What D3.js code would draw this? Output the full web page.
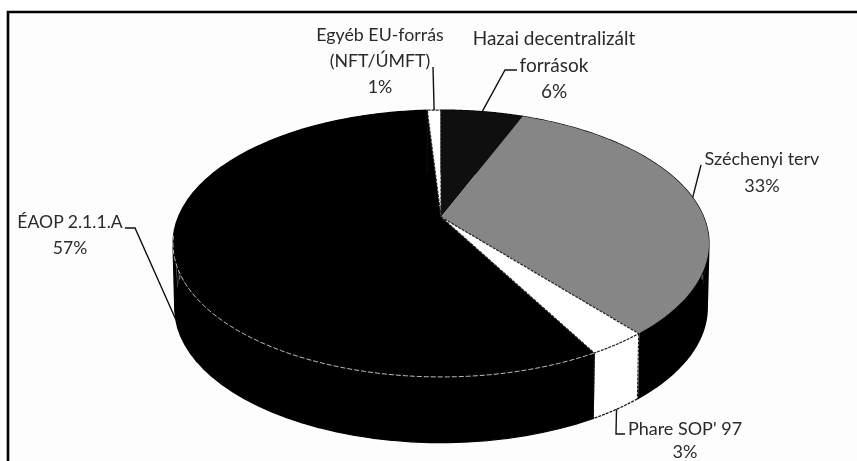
<!DOCTYPE html>
<html>
<head>
<meta charset="utf-8">
<script src="https://cdnjs.cloudflare.com/ajax/libs/d3/7.8.5/d3.min.js"></script>
<style>
html,body{margin:0;padding:0;background:#fff;overflow:hidden}
svg{display:block}
</style>
</head>
<body>
<svg id="chart" width="857" height="461"></svg>
<script>
const categories = ["Hazai decentralizált források", "Széchenyi terv", "Phare SOP' 97", "ÉAOP 2.1.1.A", "Egyéb EU-forrás (NFT/ÚMFT)"];
const values = [6, 33, 3, 57, 1];
const labelLines = [["Hazai decentralizált", "források", "6%"], ["Széchenyi terv", "33%"], ["Phare SOP' 97", "3%"], ["ÉAOP 2.1.1.A", "57%"], ["Egyéb EU-forrás", "(NFT/ÚMFT)", "1%"]];
const topColors = ["#0f0f0f", "#868686", "#ffffff", "#000000", "#ffffff"];
const wallColors = ["#000000", "#000000", "#ffffff", "#000000", "#ffffff"];

// Layout (label centres, first baselines, line steps, font sizes, leader elbows)
const labelCenters = [[554, 45], [762, 165], [685, 435], [70, 228], [380, 41]];
const labelSteps = [26.5, 27, 22.5, 26, 26];
const labelSizes = [19, 18, 18, 17.6, 17.8];
const elbows = [[[505, 70], [517, 70]], [[701, 165]], [[616, 434], [625, 434]], [[135, 228], [125, 228]], [[433, 67]]];
const leaderOnWall = [false, false, true, true, false];

const svg = d3.select("#chart");
const W = 857, H = 461;
svg.append("rect").attr("width", W).attr("height", H).attr("fill", "#fff");
svg.append("rect").attr("x", 8).attr("y", 12).attr("width", W - 8).attr("height", H - 12)
  .attr("fill", "#fdfdfd");
svg.append("path").attr("d", `M8,${H}V12H${W}`).attr("fill", "none").attr("stroke", "#000").attr("stroke-width", 2.6);

const root = svg.append("g").style("filter", "blur(0.45px)");

// tilted disc: perspective projection of the unit circle
const k = 0.1985;
const xTop = d3.scaleLinear().domain([-1, 1]).range([441 - 262.7, 441 + 262.7]);
const yTop = d3.scaleLinear().domain([-1, 1]).range([217 + 128.2, 217 - 128.2]);
const xBot = d3.scaleLinear().domain([-1, 1]).range([441 - 261, 441 + 261]);
const yBot = d3.scaleLinear().domain([-1, 1]).range([281 + 129.6, 281 - 129.6]);
const project = (xs, ys, a) => {
  const u = Math.sin(a), v = Math.cos(a), w = 1 + k * v;
  return [xs(u / w), ys(v / w)];
};
const pTop = a => project(xTop, yTop, a);
const pBot = a => project(xBot, yBot, a);
const arcPts = (fn, a0, a1) => d3.range(0, 61).map(i => fn(a0 + (a1 - a0) * i / 60));
const line = d3.line();
const apex = [xTop(0), yTop(0)];

const arcs = d3.pie().sort(null)(values);

// side walls, built from quads so the silhouette joins both rims
const wallPath = d => {
  const t = arcPts(pTop, d.startAngle, d.endAngle), b = arcPts(pBot, d.startAngle, d.endAngle);
  return d3.range(0, 60).map(i => line([t[i], t[i + 1], b[i + 1], b[i]]) + "Z").join("");
};
root.append("g").selectAll("path").data(arcs).join("path")
  .attr("d", wallPath)
  .attr("fill", (d, i) => wallColors[i])
  .attr("stroke", (d, i) => wallColors[i]).attr("stroke-width", 1.2);

// top faces
root.append("g").selectAll("path").data(arcs).join("path")
  .attr("d", d => line([apex].concat(arcPts(pTop, d.startAngle, d.endAngle))) + "Z")
  .attr("fill", (d, i) => topColors[i]);

// edges of white slices
const edge = root.append("g").attr("fill", "none");
arcs.forEach((d, i) => {
  if (topColors[i] !== "#ffffff") return;
  edge.append("path")
    .attr("d", line([apex].concat(arcPts(pTop, d.startAngle, d.endAngle))) + "Z")
    .attr("stroke", "#222").attr("stroke-width", 1.2).attr("stroke-dasharray", "3 1");
  [d.startAngle, d.endAngle].forEach(a => {
    edge.append("path")
      .attr("d", line([pTop(a), pBot(a)]))
      .attr("stroke", "#111").attr("stroke-width", 1.1).attr("stroke-dasharray", "3 1");
  });
  if (i === 2) {
    edge.append("path")
      .attr("d", line(arcPts(pBot, d.startAngle, d.endAngle)))
      .attr("stroke", "#111").attr("stroke-width", 1.2).attr("stroke-dasharray", "3 1");
  }
});

// pale hairline between top face and wall of the big black slice, front part only
const big = arcs[3];
const hairlineEnd = 4.57;
edge.append("path")
  .attr("d", line(arcPts(pTop, big.startAngle, hairlineEnd)))
  .attr("stroke", "#e8e8e8").attr("stroke-width", 0.8).attr("stroke-dasharray", "5 2");

// leaders
const leaders = root.append("g").attr("fill", "none").attr("stroke", "#111").attr("stroke-width", 1.4);
arcs.forEach((d, i) => {
  const mid = (d.startAngle + d.endAngle) / 2;
  const start = leaderOnWall[i] ? pBot(mid) : pTop(mid);
  leaders.append("path").attr("d", line([start].concat(elbows[i])));
});

// labels
const labels = root.append("g")
  .attr("font-family", "Lato, 'Open Sans', sans-serif")
  .attr("fill", "#2a2a2a").attr("text-anchor", "middle");
labelLines.forEach((lines, i) => {
  lines.forEach((t, j) => {
    labels.append("text")
      .attr("x", labelCenters[i][0])
      .attr("y", labelCenters[i][1] + j * labelSteps[i])
      .attr("font-size", labelSizes[i])
      .text(t);
  });
});
</script>
</body>
</html>
